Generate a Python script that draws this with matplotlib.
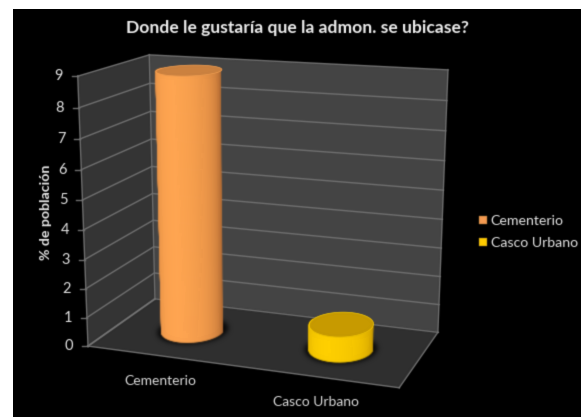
import numpy as np
import matplotlib
matplotlib.use("Agg")
import matplotlib.pyplot as plt
from matplotlib.collections import PolyCollection
from matplotlib.patches import Patch, Polygon

# ---- data -------------------------------------------------------------
categories = ["Cementerio", "Casco Urbano"]
values = [8.95, 0.85]
y_ticks = list(range(0, 10))
title = "Donde le gustaría que la admon. se ubicase?"
y_label = "% de población"

# ---- styles -----------------------------------------------------------
plt.rcParams['font.family'] = ['Lato', 'DejaVu Sans']
body_edge = ["#b86f35", "#c99a00"]
body_mid = ["#ffa551", "#ffd000"]
cap_colour = ["#cb813f", "#c79a00"]
legend_colour = ["#f59b52", "#ffcc00"]

fig = plt.figure(figsize=(5.87, 4.17), dpi=100, facecolor="white")
W, H = 587.0, 417.0
ax = fig.add_axes([13 / W, 0, (581 - 13) / W, (417 - 9) / H], facecolor="black")
ax.set_xlim(13, 581)
ax.set_ylim(417, 9)
ax.set_xticks([])
ax.set_yticks([])
for s in ax.spines.values():
    s.set_visible(False)

# ---- perspective scale: (category x, value, depth) -> axes coordinates --
x_max = float(len(categories))
y_max = float(y_ticks[-1])
frame = [  # world corner, where the frame sits in the axes
    ((0, y_max, 0), (78, 76)),
    ((0, y_max, 1), (149, 55)),
    ((x_max, y_max, 1), (448, 70)),
    ((0, 0, 1), (155, 299)),
    ((x_max, 0, 1), (438, 332)),
    ((0, 0, 0), (88, 346)),
    ((x_max, 0, 0), (399, 388)),
]
rows = []
for (X, Y, Z), (u, v) in frame:
    p = [X, Y, Z, 1]
    rows.append(p + [0, 0, 0, 0] + [-u * c for c in p])
    rows.append([0, 0, 0, 0] + p + [-v * c for c in p])
camera = np.linalg.svd(np.array(rows, float))[2][-1].reshape(3, 4)


def project(x, y, z):
    x, y, z = np.broadcast_arrays(np.asarray(x, float), np.asarray(y, float), np.asarray(z, float))
    pts = np.stack([x, y, z, np.ones_like(x)], axis=-1) @ camera.T
    return pts[..., 0] / pts[..., 2], pts[..., 1] / pts[..., 2]


def blur(sigma):
    pad = int(3 * sigma) + 1
    offs = np.arange(-pad, pad + 1)
    k = np.exp(-0.5 * (offs / sigma) ** 2)
    k /= k.sum()

    def _filter(img, dpi):
        out = np.pad(img, ((pad, pad), (pad, pad), (0, 0))).astype(float)
        out[..., :3] *= out[..., 3:4]  # blur with premultiplied alpha
        for axis in (0, 1):
            out = sum(w * np.roll(out, o, axis=axis) for o, w in zip(offs, k))
        a = out[..., 3:4]
        out[..., :3] = np.where(a > 1e-4, out[..., :3] / np.maximum(a, 1e-4), 0)
        return np.clip(out, 0, 1), -pad, -pad
    return _filter


def face(corners, colour, z=1):
    xs, ys = project(*np.array(corners, float).T)
    ax.add_patch(Polygon(np.c_[xs, ys], closed=True, fc=colour, ec="none", zorder=z))


# ---- walls ------------------------------------------------------------
face([(0, 0, 0), (0, y_max, 0), (0, y_max, 1), (0, 0, 1)], "#343434")
face([(0, 0, 1), (0, y_max, 1), (x_max, y_max, 1), (x_max, 0, 1)], "#444444")
face([(0, 0, 0), (0, 0, 1), (x_max, 0, 1), (x_max, 0, 0)], "#2f2f2f")

grid = "#707070"
for v in y_ticks:
    px, py = project([0, 0, x_max], [v] * 3, [0, 1, 1])
    ax.plot(px, py, color=grid, lw=1.0, zorder=2, solid_joinstyle="miter")
    tx, ty = project(0, v, 0)
    ax.plot([tx - 6, tx], [ty, ty], color=grid, lw=1.0, zorder=2)
    ax.text(tx - 19, ty, str(v), color="#e4e4e4", fontsize=10.5, ha="center", va="center", zorder=5)
for a, b in [((0, 0, 0), (0, y_max, 0)), ((0, 0, 0), (x_max, 0, 0)), ((0, 0, 0), (0, 0, 1)),
             ((0, 0, 1), (0, y_max, 1)), ((x_max, 0, 0), (x_max, 0, 1)),
             ((x_max, 0, 1), (x_max, y_max, 1))]:
    px, py = project(*np.array([a, b], float).T)
    ax.plot(px, py, color=grid, lw=1.0, zorder=2)

# ---- cylinders ---------------------------------------------------------
radius_x, radius_z, depth = 0.195, 0.235, 0.5
theta = np.linspace(0, 2 * np.pi, 121)
for i, value in enumerate(values):
    cx = i + 0.5
    # floor shadow
    sx, sy = project(cx + 1.14 * radius_x * np.cos(theta), 0, depth + 1.14 * radius_z * np.sin(theta))
    shadow = Polygon(np.c_[sx, sy], closed=True, fc="black", ec="none", alpha=0.85, zorder=3)
    shadow.set_agg_filter(blur(2.5))
    ax.add_patch(shadow)
    # body, one strip per angle step (front half, plus the small wrap that perspective shows)
    ang = np.linspace(-0.12, np.pi + 0.12, 91)
    polys, cols = [], []
    c0 = np.array(matplotlib.colors.to_rgb(body_edge[i]))
    c1 = np.array(matplotlib.colors.to_rgb(body_mid[i]))
    order = np.argsort(np.sin(0.5 * (ang[:-1] + ang[1:])))
    for j in order:
        a0, a1 = ang[j], ang[j + 1]
        xa, za = cx + radius_x * np.cos([a0, a1]), depth - radius_z * np.sin([a0, a1])
        bx, by = project(xa, 0, za)
        tx, ty = project(xa, value, za)
        polys.append(np.c_[[bx[0], bx[1], tx[1], tx[0]], [by[0], by[1], ty[1], ty[0]]])
        m = np.clip(np.sin(0.5 * (a0 + a1)), 0, 1) ** 0.6
        cols.append(c0 + (c1 - c0) * m)
    ax.add_collection(PolyCollection(polys, facecolors=cols, edgecolors=cols, linewidths=0.8, zorder=4))
    # top cap
    tx, ty = project(cx + radius_x * np.cos(theta), value, depth + radius_z * np.sin(theta))
    ax.add_patch(Polygon(np.c_[tx, ty], closed=True, fc=cap_colour[i], ec=body_mid[i], lw=0.5, zorder=5))

# ---- text --------------------------------------------------------------
ax.text(297, 28, title, color="#f0f0f0", fontsize=12.6, fontweight="bold", ha="center", va="center")
ax.text(46, 212, y_label, color="#e8e8e8", fontsize=10.2, fontweight="bold", rotation=90, ha="center", va="center")
for name, (lx, ly) in zip(categories, [(160, 381), (316, 402)]):
    ax.text(lx, ly, name, color="#dcdcdc", fontsize=10, ha="center", va="center")

handles = [Patch(fc=c, ec="#8a6a30", lw=0.3) for c in legend_colour]
leg = ax.legend(handles, categories, loc="center left", bbox_to_anchor=(466, 232),
                bbox_transform=ax.transData, frameon=False, labelcolor="#e4e4e4", fontsize=10.2,
                handlelength=0.55, handleheight=0.55, handletextpad=0.3, labelspacing=0.72)

# the reference is a slightly soft raster: soften every mark and text a little
soft = blur(0.55)
for art in ax.findobj():
    if art is ax or art is ax.patch or art in ax.spines.values():
        continue
    if art.get_agg_filter() is None and isinstance(art, (matplotlib.lines.Line2D, matplotlib.text.Text,
                                                         matplotlib.patches.Polygon, Patch, PolyCollection)):
        art.set_agg_filter(soft)

fig.savefig("out.png", dpi=100, facecolor="white")
